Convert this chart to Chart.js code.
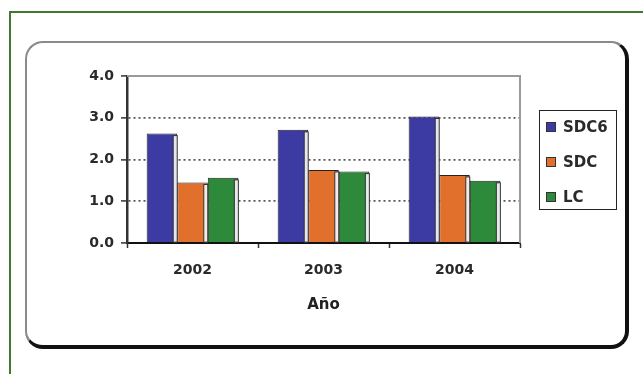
<!DOCTYPE html>
<html>
<head>
<meta charset="utf-8">
<script src="https://cdn.jsdelivr.net/npm/chart.js@4/dist/chart.umd.min.js"></script>
<style>
  html, body { margin: 0; padding: 0; background: #fff; overflow: hidden; }
  #frame { position: absolute; left: 9px; top: 11px; width: 700px; height: 420px;
           border: 2px solid #3e7b2c; box-sizing: border-box; }
  #box { position: absolute; left: 25px; top: 41px; width: 604px; height: 308px; box-sizing: border-box;
         border-style: solid; border-width: 2px 4px 4px 2px;
         border-color: #8a8a8a #111 #111 #8a8a8a; border-radius: 18px; }
  #wrap { position: absolute; left: 0; top: 0; width: 643px; height: 374px; }
  #legend { position: absolute; left: 539px; top: 110px; width: 78px; height: 100px; box-sizing: border-box;
            border: 1.5px solid #222; font: bold 15px "DejaVu Sans", sans-serif; color: #2a2a2a; }
  #legend .item { position: absolute; left: 6px; height: 18px; line-height: 18px; white-space: nowrap; }
  #legend .sw { display: inline-block; width: 8px; height: 8px; border: 1px solid #333;
                vertical-align: middle; margin-right: 7px; position: relative; top: -1px; }
</style>
</head>
<body>
<div id="frame"></div>
<div id="box"></div>
<div id="wrap"><canvas id="c" width="643" height="374"></canvas></div>
<div id="legend"></div>
<script>
// ───── data ─────
const years = ['2002', '2003', '2004'];
const seriesNames = ['SDC6', 'SDC', 'LC'];
const sdc6 = [2.62, 2.71, 3.03];
const sdc = [1.45, 1.75, 1.63];
const lc = [1.56, 1.71, 1.49];
const yTicks = [0, 1, 2, 3, 4];
const seriesColors = ['#3b3ba3', '#e0702c', '#2e8a3b'];

const seriesValues = [sdc6, sdc, lc];

// light "3D" side strip on the right of each bar, plus plot top/right frame
const barSides = {
  id: 'barSides',
  beforeDatasetsDraw(chart) {
    const { ctx, chartArea: a } = chart;
    ctx.save();
    ctx.strokeStyle = '#9a9a9a';
    ctx.lineWidth = 2;
    ctx.beginPath();
    ctx.moveTo(a.left, a.top);
    ctx.lineTo(a.right, a.top);
    ctx.lineTo(a.right, a.bottom);
    ctx.stroke();
    ctx.restore();
  },
  afterDatasetsDraw(chart) {
    const { ctx } = chart;
    ctx.save();
    chart.data.datasets.forEach((ds, i) => {
      chart.getDatasetMeta(i).data.forEach((bar) => {
        const right = bar.x + bar.width / 2;
        const w = 4;
        ctx.fillStyle = 'rgba(245,245,250,0.92)';
        ctx.fillRect(right - w, bar.y + 2, w, bar.base - bar.y - 2);
        ctx.strokeStyle = '#333';
        ctx.lineWidth = 1;
        ctx.strokeRect(right - w, bar.y + 2, w, bar.base - bar.y - 2);
      });
    });
    ctx.restore();
  },
};

new Chart(document.getElementById('c'), {
  type: 'bar',
  data: {
    labels: years,
    datasets: seriesNames.map((name, i) => ({
      label: name,
      data: seriesValues[i],
      backgroundColor: seriesColors[i],
      borderColor: '#222',
      borderWidth: 1,
      categoryPercentage: 0.7,
      barPercentage: 1.0,
    })),
  },
  options: {
    responsive: false,
    animation: false,
    events: [],
    layout: { padding: { left: 0, top: 76, right: 123, bottom: 52 } },
    plugins: { legend: { display: false }, tooltip: { enabled: false } },
    scales: {
      x: {
        afterFit(s) { s.height = 79; },
        grid: { drawOnChartArea: false, tickLength: 5, tickColor: '#333', tickWidth: 1.5, offset: true },
        border: { color: '#111', width: 2 },
        ticks: { color: '#2a2a2a', padding: 14, font: { family: 'DejaVu Sans', size: 14, weight: 'bold' } },
        title: {
          display: true, text: 'Año', color: '#222',
          padding: { top: 0, bottom: 8 },
          font: { family: 'DejaVu Sans', size: 15, weight: 'bold' },
        },
      },
      y: {
        min: yTicks[0],
        max: yTicks[yTicks.length - 1],
        afterFit(s) { s.width = 127; },
        afterBuildTicks(s) { s.ticks = yTicks.map((v) => ({ value: v })); },
        grid: {
          color: (ctx) => (ctx.tick && (ctx.tick.value === 0 || ctx.tick.value === 4)) ? 'rgba(0,0,0,0)' : '#555',
          lineWidth: 1.8,
          tickLength: 6,
          tickColor: '#333',
          tickWidth: 1.5,
        },
        border: { color: '#333', width: 2.5, dash: [2, 3] },
        ticks: {
          color: '#2a2a2a', padding: 7,
          font: { family: 'DejaVu Sans', size: 14, weight: 'bold' },
          callback: (v) => Number(v).toFixed(1),
        },
      },
    },
  },
  plugins: [barSides],
});

// legend
const legend = document.getElementById('legend');
const itemTops = [7, 42, 77];
seriesNames.forEach((name, i) => {
  const it = document.createElement('div');
  it.className = 'item';
  it.style.top = itemTops[i] + 'px';
  const sw = document.createElement('span');
  sw.className = 'sw';
  sw.style.background = seriesColors[i];
  it.appendChild(sw);
  it.appendChild(document.createTextNode(name));
  legend.appendChild(it);
});
</script>
</body>
</html>
